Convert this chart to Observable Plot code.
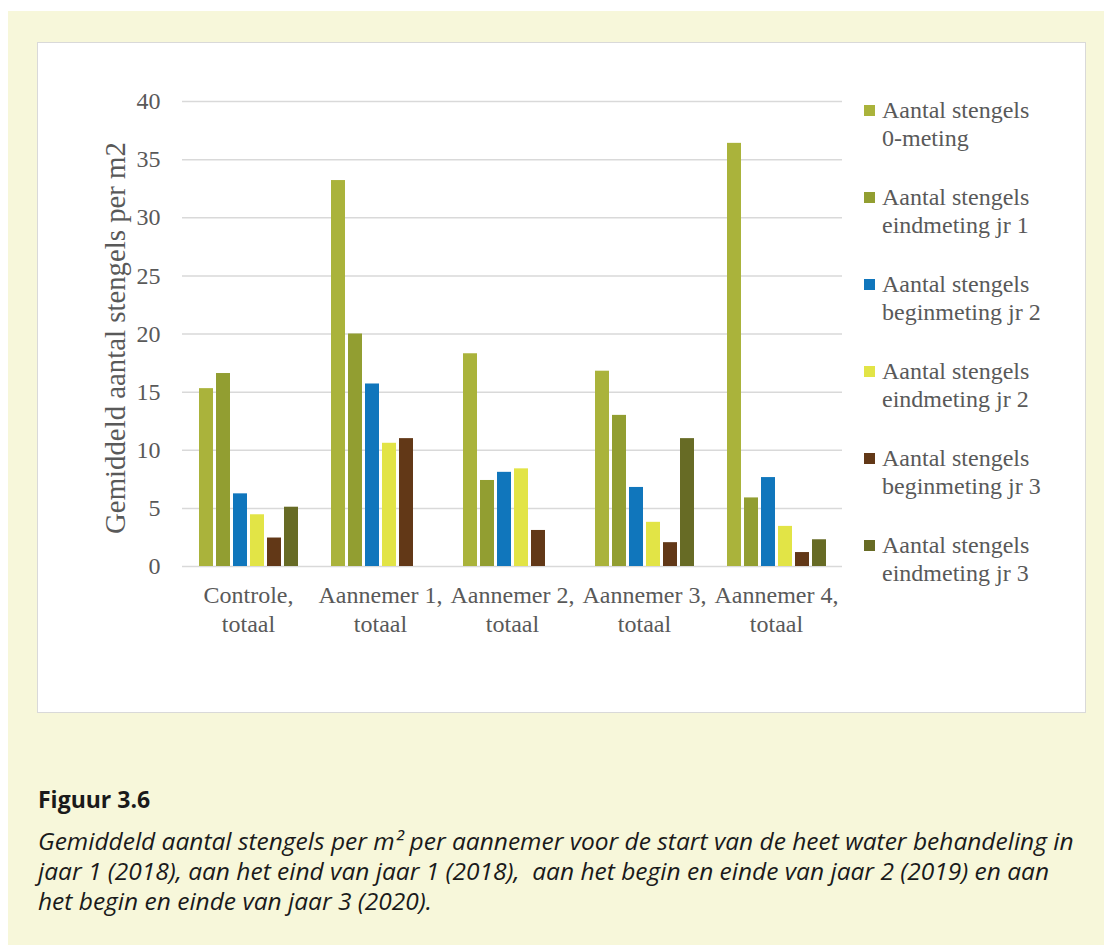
<!DOCTYPE html>
<html>
<head>
<meta charset="utf-8">
<script src="https://cdn.jsdelivr.net/npm/d3@7"></script>
<script src="https://cdn.jsdelivr.net/npm/@observablehq/plot@0.6"></script>
<style>
  html, body { margin: 0; padding: 0; background: #ffffff; }
  body { width: 1104px; height: 945px; position: relative; overflow: hidden; }
  #bg { position: absolute; left: 8px; top: 11px; width: 1096px; height: 934px; background: #F7F7DA; }
  #panel { position: absolute; left: 37px; top: 42px; width: 1047px; height: 669px; background: #ffffff;
           border: 1.5px solid #d9d9d9; }
  #grid, #chart { position: absolute; left: 0; top: 0; }
  #ytitle { position: absolute; left: 115px; top: 338px; transform: translate(-50%, -50%) rotate(-90deg);
            white-space: nowrap; font-family: "Liberation Serif", serif; font-size: 28.8px; color: #595959; }
  #legend { position: absolute; left: 864px; top: 96px; font-family: "Liberation Serif", serif; font-size: 24px;
            color: #595959; line-height: 28px; }
  .item { position: absolute; left: 0; width: 230px; }
  .sw { position: absolute; left: 0; top: 9px; width: 11px; height: 11px; }
  .lbl { position: absolute; left: 18px; top: 0; white-space: pre; }
  #caption { position: absolute; left: 38px; top: 784px; font-family: "Open Sans", sans-serif; color: #1a1a1a; }
  #caption .h { font-weight: bold; font-size: 23px; line-height: 30px; }
  #caption .t { font-style: italic; font-size: 24.5px; line-height: 30px; margin-top: 12px; white-space: pre; }
</style>
</head>
<body>
<div id="bg"></div>
<div id="panel"></div>
<div id="grid"></div>
<div id="chart"></div>
<div id="ytitle">Gemiddeld aantal stengels per m2</div>
<div id="legend"></div>
<div id="caption">
  <div class="h">Figuur 3.6</div>
  <div class="t">Gemiddeld aantal stengels per m² per aannemer voor de start van de heet water behandeling in
jaar 1 (2018), aan het eind van jaar 1 (2018),  aan het begin en einde van jaar 2 (2019) en aan
het begin en einde van jaar 3 (2020).</div>
</div>
<script>
// ---- data ----
const categories = ["Controle, totaal", "Aannemer 1, totaal", "Aannemer 2, totaal", "Aannemer 3, totaal", "Aannemer 4, totaal"];
const categoryLabels = ["Controle,\ntotaal", "Aannemer 1,\ntotaal", "Aannemer 2,\ntotaal", "Aannemer 3,\ntotaal", "Aannemer 4,\ntotaal"];
const seriesNames = [
  "Aantal stengels 0-meting",
  "Aantal stengels eindmeting jr 1",
  "Aantal stengels beginmeting jr 2",
  "Aantal stengels eindmeting jr 2",
  "Aantal stengels beginmeting jr 3",
  "Aantal stengels eindmeting jr 3"
];
const legendLabels = [
  "Aantal stengels\n0-meting",
  "Aantal stengels\neindmeting jr 1",
  "Aantal stengels\nbeginmeting jr 2",
  "Aantal stengels\neindmeting jr 2",
  "Aantal stengels\nbeginmeting jr 3",
  "Aantal stengels\neindmeting jr 3"
];
const nulMeting      = [15.3, 33.2, 18.3, 16.8, 36.4];
const eindJr1        = [16.6, 20.0, 7.4, 13.0, 5.9];
const beginJr2       = [6.25, 15.7, 8.1, 6.8, 7.65];
const eindJr2        = [4.45, 10.6, 8.4, 3.8, 3.45];
const beginJr3       = [2.45, 11.0, 3.1, 2.05, 1.2];
const eindJr3        = [5.1, null, null, 11.0, 2.3];
const yTicks = [0, 5, 10, 15, 20, 25, 30, 35, 40];
const colors = ["#AAB33B", "#929E31", "#1076BC", "#E2E446", "#623817", "#676B25"];

const seriesValues = [nulMeting, eindJr1, beginJr2, eindJr2, beginJr3, eindJr3];
const rows = [];
seriesValues.forEach((vals, si) => {
  vals.forEach((v, ci) => {
    if (v != null) rows.push({cat: categories[ci], series: seriesNames[si], value: v});
  });
});

const frame = {width: 860, height: 650, marginLeft: 182, marginRight: 18, marginTop: 101, marginBottom: 84};
const baseStyle = {background: "transparent", fontFamily: "Liberation Serif, serif", fontSize: "24px", color: "#595959", overflow: "visible"};

// background layer: gridlines + y axis across the whole plot width
const grid = Plot.plot({
  ...frame,
  style: baseStyle,
  y: {domain: [0, 40], label: null},
  marks: [
    Plot.ruleY(yTicks, {stroke: "#d9d9d9", strokeWidth: 1.5}),
    Plot.axisY({ticks: yTicks, tickSize: 0, tickPadding: 22, label: null, fontSize: 24})
  ]
});
document.getElementById("grid").appendChild(grid);

// bars layer
const chart = Plot.plot({
  ...frame,
  style: baseStyle,
  fx: {domain: categories, paddingInner: 0.2, paddingOuter: 0.1, label: null},
  x: {domain: seriesNames, paddingInner: 0.2, paddingOuter: 0.1, axis: null},
  y: {domain: [0, 40], axis: null},
  color: {domain: seriesNames, range: colors},
  marks: [
    Plot.barY(rows, {fx: "cat", x: "series", y: "value", fill: "series"}),
    Plot.axisFx({anchor: "bottom", tickSize: 0, tickPadding: 17, lineHeight: 1.17, label: null,
                 tickFormat: (d) => categoryLabels[categories.indexOf(d)], fontSize: 24})
  ]
});
document.getElementById("chart").appendChild(chart);

const legend = document.getElementById("legend");
legendLabels.forEach((lab, i) => {
  const item = document.createElement("div");
  item.className = "item";
  item.style.top = (i * 87) + "px";
  const sw = document.createElement("div");
  sw.className = "sw";
  sw.style.background = colors[i];
  const t = document.createElement("div");
  t.className = "lbl";
  t.textContent = lab;
  item.appendChild(sw);
  item.appendChild(t);
  legend.appendChild(item);
});
</script>
</body>
</html>
